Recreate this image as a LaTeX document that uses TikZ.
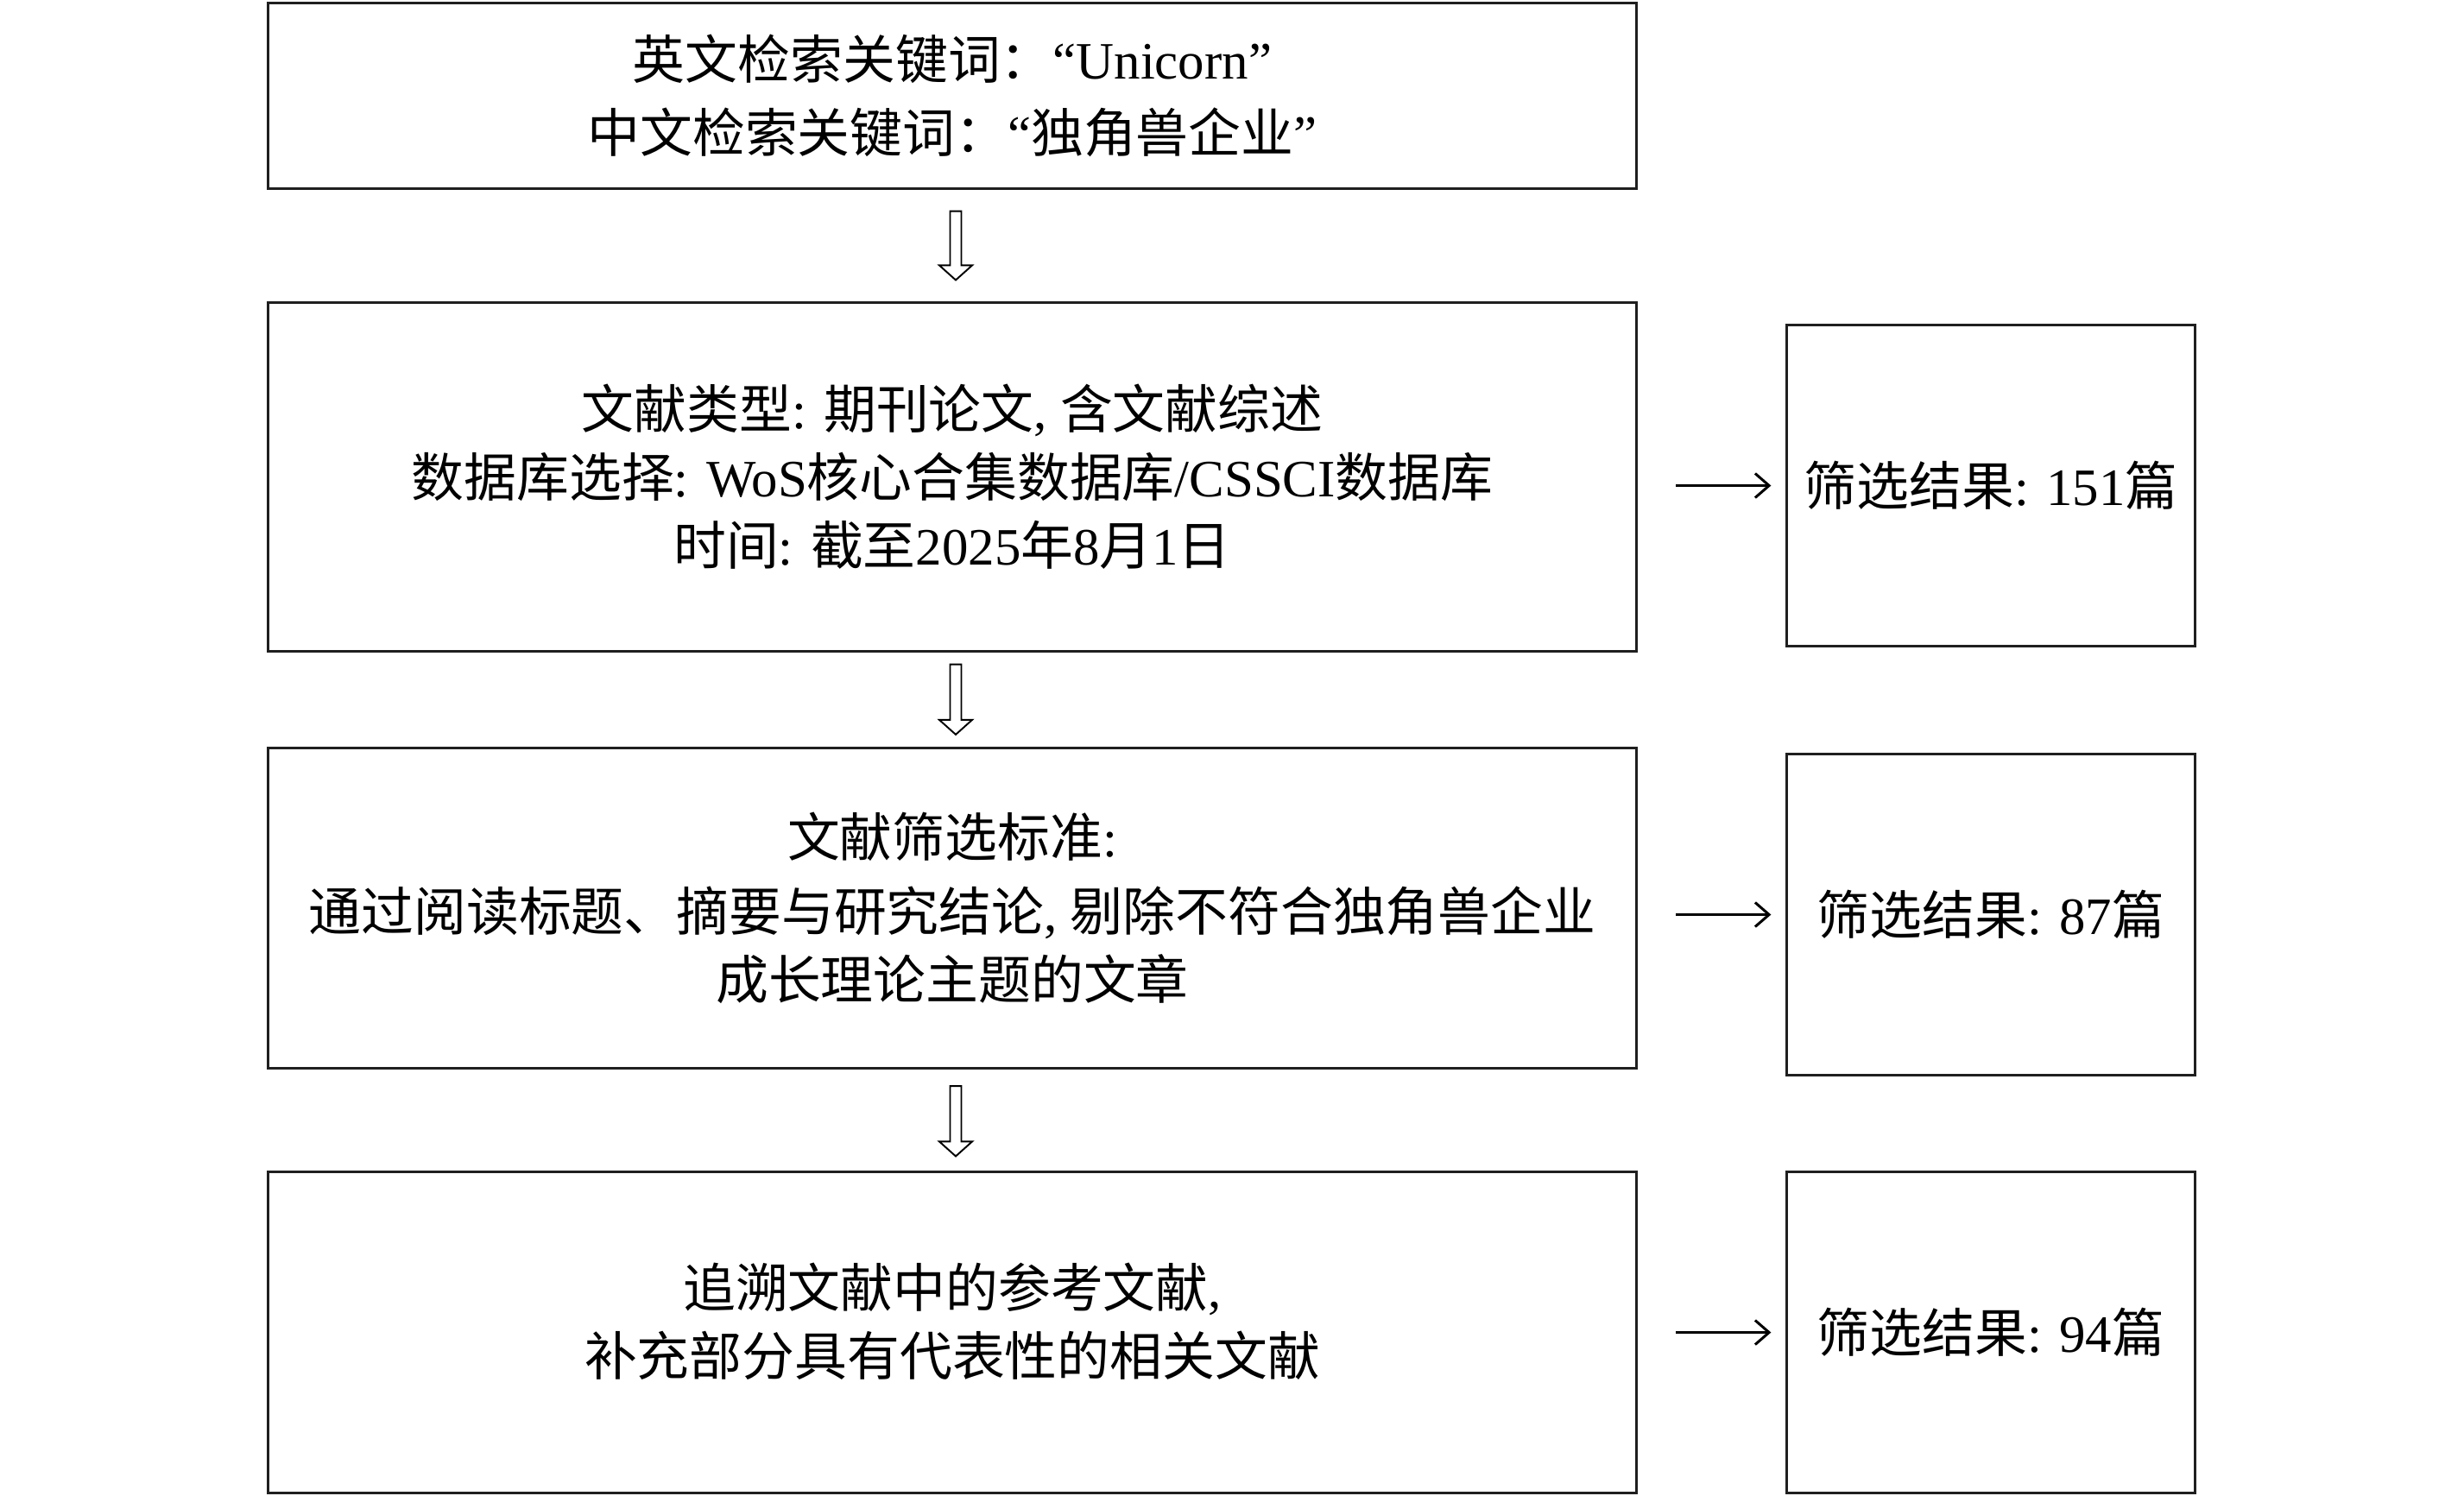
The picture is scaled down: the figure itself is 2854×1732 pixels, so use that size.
\documentclass[tikz,border=0pt]{standalone}
\usepackage{fontspec}
\setmainfont{Noto Sans CJK SC}
\newfontfamily\lat{Liberation Serif}
\usetikzlibrary{arrows.meta,calc}
\tikzset{
  box/.style={draw=black!88, line width=0.85pt, fill=white, align=center,
    minimum width=15.84cm, inner sep=0pt,
    font=\fontsize{17.3}{22.5}\selectfont},
  rbox/.style={draw=black!88, line width=0.85pt, fill=white, align=center,
    minimum width=4.72cm, minimum height=3.72cm, inner sep=0pt,
    font=\fontsize{17.3}{22.5}\selectfont},
  hollow/.style={draw=black, line width=0.55pt, fill=white, line join=miter},
  rarrow/.style={draw=black, line width=0.85pt, -{Straight Barb[length=4.6pt,width=8pt,line width=0.85pt]}}
}
\begin{document}
\begin{tikzpicture}[x=0.01cm,y=-0.01cm]
\useasboundingbox (0,0) rectangle (2854,1732);
% main boxes
\node[box, minimum height=2.14cm] (b1) at (1103,111)
  {英文检索关键词：{\lat “Unicorn”}\\[1.5pt]中文检索关键词：{\lat “}独角兽企业{\lat ”}};
\node[box, minimum height=4.03cm] (b2) at (1103,552.5)
  {文献类型{\lat : }期刊论文{\lat , }含文献综述\\数据库选择{\lat : WoS}核心合集数据库{\lat /CSSCI}数据库\\时间{\lat : }截至{\lat 2025}年{\lat 8}月{\lat 1}日};
\node[box, minimum height=3.71cm] (b3) at (1103,1052)
  {文献筛选标准{\lat :}\\[2pt]通过阅读标题、摘要与研究结论{\lat , }剔除不符合独角兽企业\\成长理论主题的文章};
\node[box, minimum height=3.71cm] (b4) at (1103,1543.5)
  {追溯文献中的参考文献{\lat ,}\\补充部分具有代表性的相关文献\\[-14pt]\mbox{}};
% result boxes
\node[rbox] (r1) at (2306,562.5) {筛选结果{\lat : 151}篇};
\node[rbox] (r2) at (2306,1059.5) {筛选结果{\lat : 87}篇};
\node[rbox] (r3) at (2306,1543.5) {筛选结果{\lat : 94}篇};
% hollow down arrows
\newcommand\hollowdown[4]{%
  \coordinate (hs) at ($(#1.south)+(4,#3)$);
  \coordinate (he) at ($(#2.north)+(4,-#4)$);
  \path[hollow] (hs) ++(-6.5,0) -- ($(he)+(-6.5,-17)$) -- ($(he)+(-19,-17)$) -- (he)
    -- ($(he)+(19,-17)$) -- ($(he)+(6.5,-17)$) -- ($(hs)+(6.5,0)$) -- cycle;
}
\hollowdown{b1}{b2}{25}{25}
\hollowdown{b2}{b3}{14}{14}
\hollowdown{b3}{b4}{19}{17}
% right arrows
\draw[rarrow, shorten >=0.17cm] ([xshift=0.44cm]b2.east |- r1.west) -- (r1.west);
\draw[rarrow, shorten >=0.17cm] ([xshift=0.44cm]b3.east |- r2.west) -- (r2.west);
\draw[rarrow, shorten >=0.17cm] ([xshift=0.44cm]b4.east |- r3.west) -- (r3.west);
\end{tikzpicture}
\end{document}
